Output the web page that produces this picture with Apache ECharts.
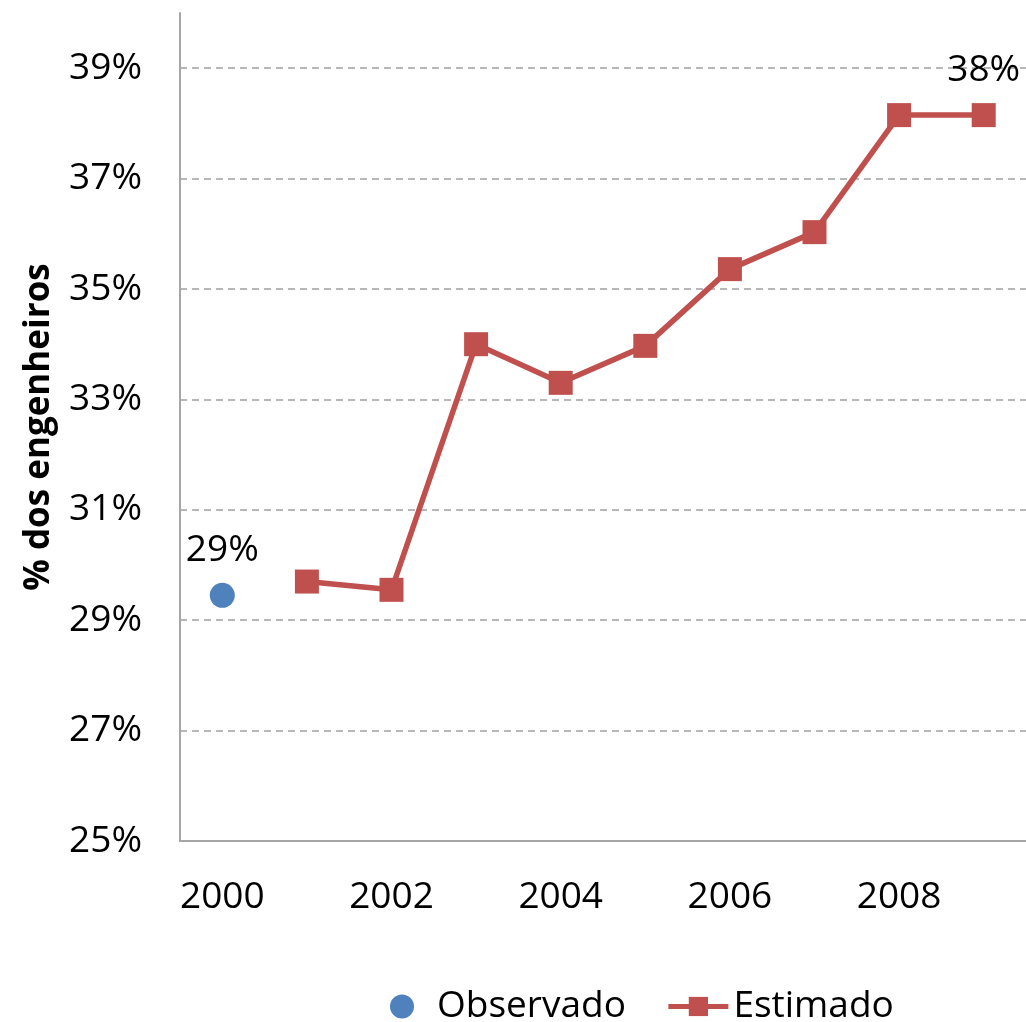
<!DOCTYPE html>
<html>
<head>
<meta charset="utf-8">
<script src="https://cdn.jsdelivr.net/npm/echarts@6/dist/echarts.min.js"></script>
<style>
  html, body { margin: 0; padding: 0; background: #fff; }
  #chart { width: 1026px; height: 1022px; }
</style>
</head>
<body>
<div id="chart"></div>
<script>
// anos e valores (% dos engenheiros)
var years = ['2000', '2001', '2002', '2003', '2004', '2005', '2006', '2007', '2008', '2009'];
var observado = [29.45, null, null, null, null, null, null, null, null, null];
var estimado = [null, 29.7, 29.55, 34.0, 33.3, 33.97, 35.36, 36.03, 38.15, 38.15];
var labelIdxObs = 0;   // ponto com rotulo
var labelIdxEst = 9;

var blue = '#4f81bd';
var red = '#c0504d';
var fontFam = '"Open Sans", "Noto Sans", sans-serif';

var chart = echarts.init(document.getElementById('chart'));

function withLabel(arr, idx) {
    return arr.map(function (v, i) {
        if (i === idx) {
            return { value: v, label: { show: true } };
        }
        return v;
    });
}

var pctFmt = function (p) { return Math.floor(p.value) + '%'; };

chart.setOption({
    animation: false,
    textStyle: { fontFamily: fontFam },
    grid: { left: 180, top: 13, width: 850, bottom: 181, containLabel: false },
    legend: {
        top: 983,
        left: 385,
        itemGap: 40,
        itemWidth: 60,
        itemHeight: 24,
        textStyle: { fontSize: 37, color: '#000', fontFamily: fontFam },
        data: [
            { name: 'Observado', icon: 'circle', itemStyle: { color: blue, opacity: 1 } },
            { name: 'Estimado', lineStyle: { width: 5 } }
        ]
    },
    xAxis: {
        type: 'category',
        data: years,
        boundaryGap: true,
        axisLine: { lineStyle: { color: '#a6a6a6', width: 2 } },
        axisTick: { show: false },
        axisLabel: { interval: 1, fontSize: 37, color: '#000', margin: 38, fontFamily: fontFam }
    },
    yAxis: {
        type: 'value',
        min: 25,
        max: 40,
        interval: 2,
        name: '% dos engenheiros',
        nameLocation: 'middle',
        nameGap: 123,
        nameTextStyle: { fontSize: 35, fontWeight: 'bold', color: '#000', fontFamily: fontFam },
        axisLine: { show: true, lineStyle: { color: '#a6a6a6', width: 2 } },
        axisTick: { show: false },
        axisLabel: {
            fontSize: 37, color: '#000', margin: 38, fontFamily: fontFam,
            showMaxLabel: false,
            formatter: function (v) { return v + '%'; }
        },
        splitLine: {
            showMaxLine: false,
            showMinLine: false,
            lineStyle: { color: '#a0a0a0', type: [7, 5], width: 1.5 }
        }
    },
    series: [
        {
            name: 'Observado',
            type: 'scatter',
            data: withLabel(observado, labelIdxObs),
            symbol: 'circle',
            symbolSize: 25,
            itemStyle: { color: blue, opacity: 1 },
            label: {
                show: false, position: 'top', distance: 14,
                fontSize: 37, color: '#000', fontFamily: fontFam, formatter: pctFmt
            }
        },
        {
            name: 'Estimado',
            type: 'line',
            data: withLabel(estimado, labelIdxEst),
            symbol: 'rect',
            symbolSize: 24,
            connectNulls: false,
            lineStyle: { color: red, width: 5.5 },
            itemStyle: { color: red },
            label: {
                show: false, position: 'top', distance: 14,
                fontSize: 37, color: '#000', fontFamily: fontFam, formatter: pctFmt
            }
        }
    ]
});
</script>
</body>
</html>
